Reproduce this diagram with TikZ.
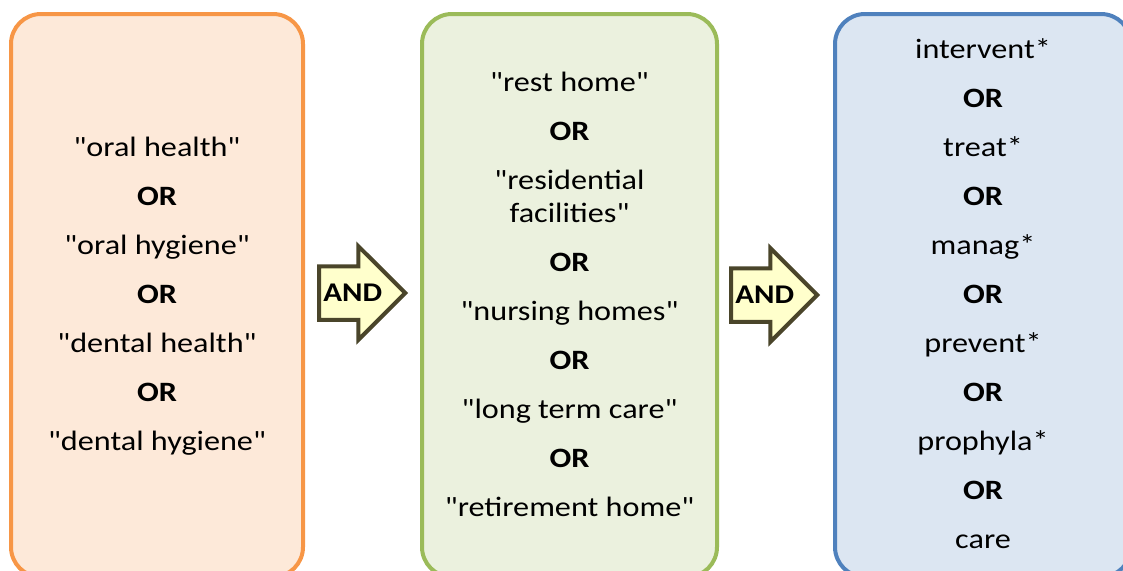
\documentclass[tikz,border=0pt]{standalone}
\usepackage{fontspec}
\setmainfont{Carlito}[Ligatures=TeXOff, FakeStretch=1.15]
\usetikzlibrary{shapes.arrows}

\definecolor{orline}{HTML}{F79646}
\definecolor{orfill}{HTML}{FDE9D9}
\definecolor{grline}{HTML}{9BBB59}
\definecolor{grfill}{HTML}{EBF1DE}
\definecolor{blline}{HTML}{4F81BD}
\definecolor{blfill}{HTML}{DCE6F2}
\definecolor{arline}{HTML}{4A452A}
\definecolor{arfill}{HTML}{FFFFCC}

\newcommand{\andlabel}{\makebox[41pt][l]{\hspace{-5pt}AND}}

\tikzset{
  termbox/.style={draw, line width=4pt, rounded corners=30pt, inner sep=0pt},
  terms/.style={align=center, inner sep=0pt, font=\fontsize{28}{49}\selectfont},
  andarrow/.style={single arrow, draw=arline, fill=arfill, line width=4pt,
    inner xsep=0pt, inner ysep=16pt, minimum height=86pt,
    single arrow head extend=20pt, single arrow tip angle=90,
    font=\bfseries\fontsize{27}{30}\selectfont}
}

\begin{document}
\begin{tikzpicture}[x=1pt,y=-1pt]
  \useasboundingbox (0,0) rectangle (1123,570);
  \clip (0,0) rectangle (1123,570);

  % Box of oral health terms
  \node [termbox, draw=orline, fill=orfill, minimum width=292pt, minimum height=563pt] (health) at (157,295.5) {};
  \node [terms] (healthterms) at (157,296) {%
    "oral health"\\ \textbf{OR}\\ "oral hygiene"\\ \textbf{OR}\\
    "dental health"\\ \textbf{OR}\\ "dental hygiene"};

  % Box of care setting terms
  \node [termbox, draw=grline, fill=grfill, minimum width=295pt, minimum height=563pt] (setting) at (569.5,295.5) {};
  \node [terms] (settingterms) at (569.5,294) {%
    "rest home"\\ \textbf{OR}\\ "residential\\[-16pt] facilities"\\ \textbf{OR}\\
    "nursing homes"\\ \textbf{OR}\\ "long term care"\\ \textbf{OR}\\ "retirement home"};

  % Box of intervention terms
  \node [termbox, draw=blline, fill=blfill, minimum width=296pt, minimum height=563pt] (action) at (983,295.5) {};
  \node [terms] (actionterms) at (983,294) {%
    intervent*\\ \textbf{OR}\\ treat*\\ \textbf{OR}\\ manag*\\ \textbf{OR}\\
    prevent*\\ \textbf{OR}\\ prophyla*\\ \textbf{OR}\\ care};

  % AND arrows between the boxes
  \node [andarrow, anchor=tip] (andone) at (408,293) {\andlabel};
  \node [andarrow, anchor=tip] (andtwo) at (820,295) {\andlabel};
\end{tikzpicture}
\end{document}
